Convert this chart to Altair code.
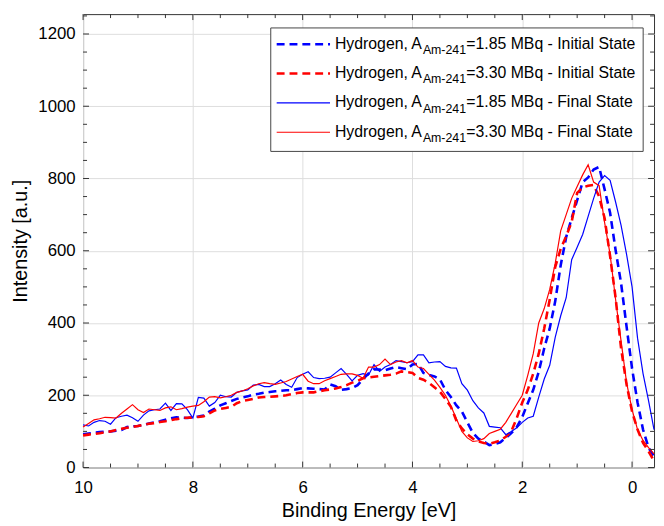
import altair as alt
import pandas as pd

# Binding energy grid (eV), from 10.0 down to -0.4 in 0.1 steps
energy = [round(10 - 0.1 * i, 1) for i in range(105)]

initial_185 = [
    92, 94, 96, 98, 99, 100, 102, 104, 112, 114,
    115, 118, 122, 125, 128, 132, 136, 139, 138, 137,
    139, 141, 144, 155, 163, 172, 178, 184, 190, 194,
    197, 202, 204, 207, 209, 211, 212, 214, 214, 217,
    220, 219, 218, 217, 216, 230, 225, 215, 217, 220,
    228, 245, 260, 272, 271, 269, 274, 278, 275, 272,
    285, 287, 262, 256, 252, 244, 215, 195, 172, 155,
    125, 96, 80, 72, 62, 65, 70, 82, 95, 112,
    140, 178, 215, 265, 330, 385, 460, 560, 638, 690,
    740, 790, 803, 825, 832, 770, 705, 602, 510, 390,
    274, 180, 105, 55, 30,
]

initial_330 = [
    89, 91, 93, 95, 98, 100, 104, 107, 110, 112,
    115, 118, 121, 123, 126, 128, 131, 134, 136, 138,
    139, 140, 142, 150, 158, 162, 165, 168, 178, 184,
    187, 190, 194, 195, 196, 197, 198, 200, 203, 206,
    208, 208, 208, 211, 214, 216, 219, 223, 228, 235,
    240, 247, 249, 251, 253, 255, 257, 260, 266, 264,
    262, 248, 243, 234, 222, 210, 190, 168, 130, 108,
    92, 80, 72, 68, 66, 70, 75, 85, 100, 137,
    180, 215, 260, 315, 385, 465, 555, 605, 640, 680,
    760, 775, 780, 782, 750, 690, 585, 470, 330, 230,
    155, 105, 68, 45, 18,
]

final_185 = [
    118, 115, 125, 130, 128, 120, 138, 142, 145, 138,
    128, 145, 157, 160, 162, 178, 158, 177, 176, 160,
    137, 194, 192, 170, 180, 200, 196, 195, 208, 212,
    215, 228, 230, 224, 224, 232, 242, 230, 222, 249,
    258, 265, 249, 246, 247, 250, 262, 274, 258, 240,
    255, 260, 256, 285, 266, 278, 285, 296, 293, 290,
    293, 312, 312, 290, 292, 293, 280, 276, 275, 232,
    214, 185, 165, 151, 114, 112, 110, 91, 100, 110,
    125, 137, 142, 195, 245, 283, 360, 420, 470, 575,
    610, 645, 695, 745, 790, 808, 795, 735, 670, 590,
    500, 358, 260, 185, 105,
]

final_330 = [
    112, 122, 132, 135, 139, 138, 137, 150, 162, 174,
    160, 152, 162, 160, 158, 165, 168, 160, 163, 167,
    170, 172, 182, 195, 196, 193, 196, 200, 208, 212,
    218, 226, 232, 235, 232, 230, 234, 238, 245, 252,
    258, 239, 232, 232, 240, 246, 252, 258, 259, 259,
    255, 247, 278, 278, 285, 300, 285, 292, 296, 290,
    296, 278, 274, 258, 242, 222, 200, 170, 135, 100,
    82, 72, 74, 80, 94, 100, 106, 125, 150, 175,
    200, 255, 315, 400, 440, 493, 565, 655, 700, 745,
    778, 810, 838, 790, 780, 678, 590, 465, 350, 235,
    160, 105, 75, 55, 38,
]

series_keys = ["init185", "init330", "fin185", "fin330"]
series_colors = ["#0000ff", "#ff0000", "#0000ff", "#ff0000"]
legend_main = ["Hydrogen, A", "Hydrogen, A", "Hydrogen, A", "Hydrogen, A"]
legend_sub = ["Am-241", "Am-241", "Am-241", "Am-241"]
legend_rest = [
    "=1.85 MBq - Initial State",
    "=3.30 MBq - Initial State",
    "=1.85 MBq - Final State",
    "=3.30 MBq - Final State",
]
legend_dashed = [True, True, False, False]

x_major = [10, 8, 6, 4, 2, 0]
x_minor = [9.5, 9, 8.5, 7.5, 7, 6.5, 5.5, 5, 4.5, 3.5, 3, 2.5, 1.5, 1, 0.5]
y_major = [0, 200, 400, 600, 800, 1000, 1200]
y_minor = [50, 100, 150, 250, 300, 350, 450, 500, 550, 650, 700, 750,
           850, 900, 950, 1050, 1100, 1150, 1250]

rows = []
for key, vals in zip(series_keys, [initial_185, initial_330, final_185, final_330]):
    for e, v in zip(energy, vals):
        rows.append({"E": e, "I": v, "series": key})
df = pd.DataFrame(rows)

W, H = 578, 459
FONT = "Liberation Sans"
FRAME = "#333333"
X_TITLE = "Binding Energy [eV]"
Y_TITLE = "Intensity [a.u.]"

x_scale = alt.Scale(domain=[10, -0.4], nice=False, zero=False)
y_scale = alt.Scale(domain=[0, 1255], nice=False, zero=False)
color_scale = alt.Scale(domain=series_keys, range=series_colors)

x_axis = alt.Axis(values=x_major, title=X_TITLE, grid=True, format="d",
                  ticks=False, tickSize=0, domain=False, labelFlush=False,
                  labelOverlap=False, labelPadding=12, titlePadding=6)
y_axis = alt.Axis(values=y_major, title=Y_TITLE, grid=True, format="d",
                  ticks=False, tickSize=0, domain=False, labelFlush=False,
                  labelOverlap=False, labelPadding=8, titlePadding=7)


def X(field):
    return alt.X(field, scale=x_scale, axis=x_axis, title=X_TITLE)


def Y(field):
    return alt.Y(field, scale=y_scale, axis=y_axis, title=Y_TITLE)


base = alt.Chart(df)

dashed = base.transform_filter(
    alt.FieldOneOfPredicate(field="series", oneOf=["init185", "init330"])
).mark_line(strokeWidth=2.6, strokeDash=[8, 5]).encode(
    x=X("E:Q"), y=Y("I:Q"),
    color=alt.Color("series:N", scale=color_scale, legend=None),
    detail="series:N",
)

solid = base.transform_filter(
    alt.FieldOneOfPredicate(field="series", oneOf=["fin185", "fin330"])
).mark_line(strokeWidth=1.2).encode(
    x=X("E:Q"), y=Y("I:Q"),
    color=alt.Color("series:N", scale=color_scale, legend=None),
    detail="series:N",
)

layers = [dashed, solid]


def xticks(vals, length):
    d = pd.DataFrame({"v": vals})
    bottom = alt.Chart(d).mark_rule(color=FRAME, strokeWidth=1).encode(
        x=X("v:Q"), y=alt.value(H), y2=alt.value(H - length))
    top = alt.Chart(d).mark_rule(color=FRAME, strokeWidth=1).encode(
        x=X("v:Q"), y=alt.value(0), y2=alt.value(length))
    return [bottom, top]


def yticks(vals, length):
    d = pd.DataFrame({"v": vals})
    left = alt.Chart(d).mark_rule(color=FRAME, strokeWidth=1).encode(
        y=Y("v:Q"), x=alt.value(0), x2=alt.value(length))
    right = alt.Chart(d).mark_rule(color=FRAME, strokeWidth=1).encode(
        y=Y("v:Q"), x=alt.value(W), x2=alt.value(W - length))
    return [left, right]


layers += xticks(x_major, 6) + xticks(x_minor, 4)
layers += yticks(y_major, 6) + yticks(y_minor, 4)

# Legend box (drawn in the plot's top-right corner)
one = pd.DataFrame({"k": [0]})
layers.append(
    alt.Chart(one).mark_rect(fill="white", stroke="#444444", strokeWidth=1).encode(
        x=alt.value(190), x2=alt.value(567), y=alt.value(14), y2=alt.value(139))
)
for i in range(4):
    base_y = 35 + i * 29.7
    line_y = base_y - 4.5
    rule_kwargs = dict(color=series_colors[i])
    if legend_dashed[i]:
        rule_kwargs.update(strokeWidth=2.6, strokeDash=[8, 5])
    else:
        rule_kwargs.update(strokeWidth=1.2)
    layers.append(alt.Chart(one).mark_rule(**rule_kwargs).encode(
        x=alt.value(196), x2=alt.value(250), y=alt.value(line_y)))
    layers.append(alt.Chart(one).mark_text(
        align="left", baseline="alphabetic", font=FONT, fontSize=16, color="black"
    ).encode(x=alt.value(255), y=alt.value(base_y), text=alt.value(legend_main[i])))
    layers.append(alt.Chart(one).mark_text(
        align="left", baseline="alphabetic", font=FONT, fontSize=12.5, color="black"
    ).encode(x=alt.value(344), y=alt.value(base_y + 5.5), text=alt.value(legend_sub[i])))
    layers.append(alt.Chart(one).mark_text(
        align="left", baseline="alphabetic", font=FONT, fontSize=16, color="black"
    ).encode(x=alt.value(388), y=alt.value(base_y), text=alt.value(legend_rest[i])))

chart = alt.layer(*layers).properties(
    width=W, height=H,
    autosize=alt.AutoSizeParams(type="none"),
    padding={"left": 76, "top": 3, "right": 2, "bottom": 55},
).configure_view(
    stroke=FRAME, strokeWidth=1
).configure_axis(
    labelFont=FONT, titleFont=FONT, labelFontSize=17, titleFontSize=20,
    labelColor="black", titleColor="black", titleFontWeight="normal",
    gridColor="#dddddd", gridWidth=1,
)

chart.save("out.html", embed_options={"renderer": "svg", "actions": False})
